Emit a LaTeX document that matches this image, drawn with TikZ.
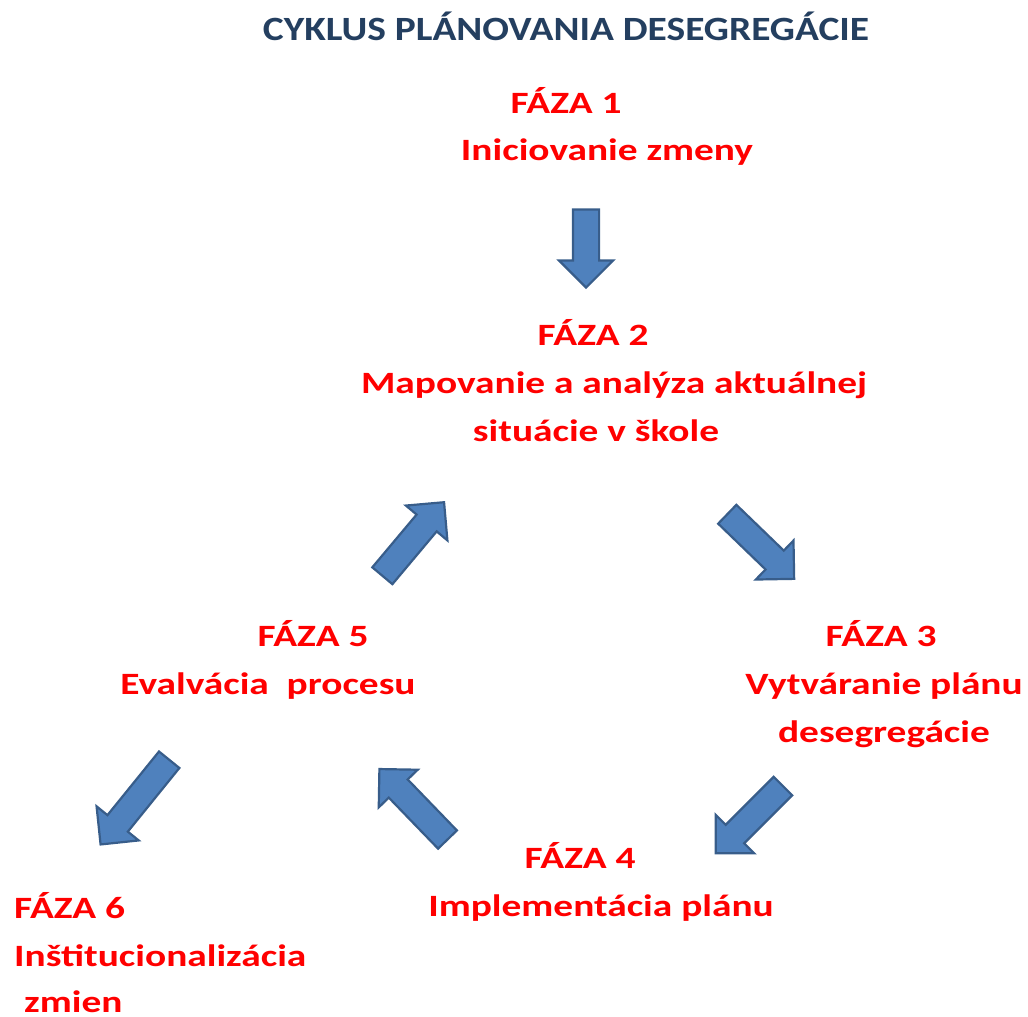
\documentclass[tikz,border=0pt]{standalone}
\usepackage{fontspec}
\setmainfont{Carlito}
\newfontfamily\titlefont[FakeStretch=1.16]{Carlito}
\newfontfamily\phasefont[FakeStretch=1.27]{Carlito}
\usetikzlibrary{shapes.arrows}

\definecolor{fazared}{HTML}{FF0000}
\definecolor{titleblue}{HTML}{243F60}
\definecolor{arrowfill}{HTML}{4F81BD}
\definecolor{arrowline}{HTML}{385D8A}

\begin{document}
\begin{tikzpicture}[x=1pt, y=-1pt,
  title/.style={font=\titlefont\bfseries\fontsize{34}{40}\selectfont, text=titleblue, anchor=base, inner sep=0pt},
  phase/.style={font=\phasefont\bfseries\fontsize{31}{37}\selectfont, text=fazared, anchor=base, inner sep=0pt},
  phaseleft/.style={phase, anchor=base west},
  barrow/.style={single arrow, draw=arrowline, fill=arrowfill, line width=2.2pt,
    inner xsep=0pt, inner ysep=12pt, single arrow head extend=14pt, single arrow head indent=0pt}]
% Fix the page to the size of the reference
\useasboundingbox (0, 0) rectangle (1028, 1017);
% Heading of the whole cycle
\node[title] (head) at (566, 40) {CYKLUS PLÁNOVANIA DESEGREGÁCIE};
% Phase 1 on top
\node[phase] (f1) at (566, 113) {FÁZA 1};
\node[phase] (f1t) at (607, 160) {Iniciovanie zmeny};
% Block arrow from phase 1 down to phase 2
\node[barrow, minimum height=78pt, rotate=-90] (a12) at (586, 242) {};
% Phase 2 in the middle
\node[phase] (f2) at (593, 345) {FÁZA 2};
\node[phase] (f2t) at (614, 393) {Mapovanie a analýza aktuálnej};
\node[phase] (f2u) at (596, 441) {situácie v škole};
% Block arrow from phase 2 to phase 3
\node[barrow, minimum height=93pt, rotate=-44] (a23) at (756, 542) {};
% Phase 3 on the right
\node[phase] (f3) at (881, 646) {FÁZA 3};
\node[phase] (f3t) at (884, 694) {Vytváranie plánu};
\node[phase] (f3u) at (884, 742) {desegregácie};
% Block arrow from phase 3 to phase 4
\node[barrow, minimum height=95pt, rotate=-135] (a34) at (754, 815) {};
% Phase 4 at the bottom
\node[phase] (f4) at (580, 868) {FÁZA 4};
\node[phase] (f4t) at (601, 916) {Implementácia plánu};
% Block arrow from phase 4 back to phase 5
\node[barrow, minimum height=98pt, rotate=134] (a45) at (418, 809) {};
% Phase 5 on the left
\node[phase] (f5) at (313, 646) {FÁZA 5};
\node[phase] (f5t) at (268, 694) {Evalvácia~ procesu};
% Block arrow from phase 5 back up to phase 2
\node[barrow, minimum height=96pt, rotate=50] (a52) at (409, 544) {};
% Block arrow from phase 5 out to phase 6
\node[barrow, minimum height=109pt, rotate=-129] (a56) at (139, 797) {};
% Phase 6 in the bottom left corner
\node[phaseleft] (f6) at (14, 918) {FÁZA 6};
\node[phaseleft] (f6t) at (14, 966) {Inštitucionalizácia};
\node[phaseleft] (f6u) at (24, 1012) {zmien};
\end{tikzpicture}
\end{document}
